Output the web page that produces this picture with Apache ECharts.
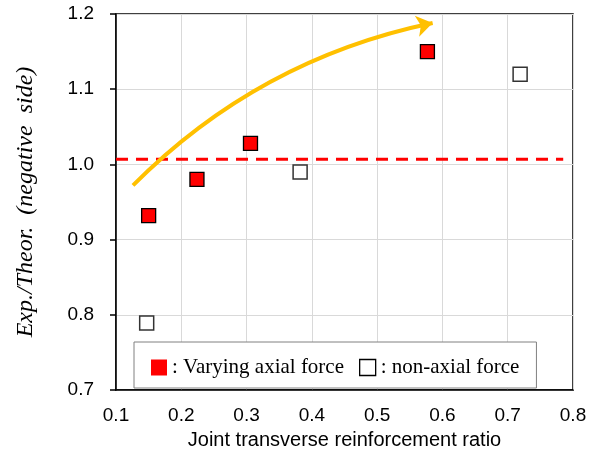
<!DOCTYPE html>
<html>
<head>
<meta charset="utf-8">
<script src="https://cdn.jsdelivr.net/npm/echarts@6/dist/echarts.min.js"></script>
<style>
  html, body { margin: 0; padding: 0; background: #fff; }
  #chart { width: 594px; height: 455px; }
</style>
</head>
<body>
<div id="chart"></div>
<script>
// 轴刻度
const xTicks = [0.1, 0.8, 0.1];   // min, max, interval
const yTicks = [0.7, 1.2, 0.1];

// 变轴力试件
const varyingX = [0.150, 0.224, 0.306, 0.577];
const varyingY = [0.932, 0.980, 1.028, 1.150];
// 无轴力试件
const nonAxialX = [0.147, 0.382, 0.719];
const nonAxialY = [0.789, 0.990, 1.120];

// 红色虚线 (平均值)
const meanLineX = [0.10, 0.785];
const meanLineY = [1.007, 1.007];

// 趋势箭头 起点 / 终点
const trendStart = [0.126, 0.972];
const trendEnd = [0.585, 1.188];

function zip(a, b) {
    return a.map(function (v, i) { return [v, b[i]]; });
}

let chart = echarts.init(document.getElementById('chart'));

let option = {
    animation: false,
    grid: {
        left: 116,
        right: 21,
        top: 14,
        bottom: 64,
        show: true,
        borderColor: '#000',
        borderWidth: 1.5
    },
    legend: {
        left: 134,
        top: 342,
        orient: 'horizontal',
        itemWidth: 16,
        itemHeight: 16,
        itemGap: 15,
        padding: [15, 17, 10, 17],
        backgroundColor: '#fff',
        borderColor: '#808080',
        borderWidth: 1,
        borderRadius: 0,
        icon: 'rect',
        formatter: function (name) {
            return ': ' + name;
        },
        textStyle: {
            fontFamily: 'Liberation Serif',
            fontSize: 21,
            color: '#000'
        },
        data: [
            { name: 'Varying axial force', itemStyle: { borderWidth: 0 } },
            { name: 'non-axial force', itemStyle: { color: '#fff', borderColor: '#000', borderWidth: 1.3 } }
        ]
    },
    xAxis: {
        type: 'value',
        min: xTicks[0],
        max: xTicks[1],
        interval: xTicks[2],
        name: 'Joint transverse reinforcement ratio',
        nameLocation: 'middle',
        nameGap: 40,
        nameTextStyle: {
            fontFamily: 'Liberation Sans',
            fontSize: 20,
            color: '#000'
        },
        axisLine: { lineStyle: { color: '#000', width: 1.5 } },
        axisTick: { show: false },
        axisLabel: {
            margin: 16,
            fontFamily: 'Liberation Sans',
            fontSize: 19,
            color: '#000',
            formatter: function (v) { return v.toFixed(1); }
        },
        splitLine: { lineStyle: { color: '#d9d9d9', width: 1 } }
    },
    yAxis: {
        type: 'value',
        min: yTicks[0],
        max: yTicks[1],
        interval: yTicks[2],
        name: 'Exp./Theor.  (negative  side)',
        nameLocation: 'middle',
        nameGap: 78,
        nameTextStyle: {
            fontFamily: 'Liberation Serif',
            fontStyle: 'italic',
            fontSize: 24,
            color: '#000'
        },
        axisLine: { show: true, lineStyle: { color: '#000', width: 1.5 } },
        axisTick: { show: true, inside: false, length: 6, lineStyle: { color: '#000', width: 1.5 } },
        axisLabel: {
            margin: 22,
            fontFamily: 'Liberation Sans',
            fontSize: 19,
            color: '#000',
            formatter: function (v) { return v.toFixed(1); }
        },
        splitLine: { lineStyle: { color: '#d9d9d9', width: 1 } }
    },
    series: [
        {
            name: 'mean',
            type: 'line',
            data: zip(meanLineX, meanLineY),
            symbol: 'none',
            lineStyle: { color: '#ff0000', width: 3, type: [12, 8] },
            silent: true,
            z: 2
        },
        {
            name: 'trend',
            type: 'lines',
            coordinateSystem: 'cartesian2d',
            data: [{ coords: [trendStart, trendEnd] }],
            symbol: ['none', 'arrow'],
            symbolSize: 16,
            lineStyle: { color: '#ffc000', width: 4, curveness: 0.15, opacity: 1 },
            silent: true,
            z: 3
        },
        {
            name: 'Varying axial force',
            type: 'scatter',
            data: zip(varyingX, varyingY),
            symbol: 'rect',
            symbolSize: 14,
            itemStyle: { color: '#ff0000', borderColor: '#000', borderWidth: 1.3, opacity: 1 },
            z: 4
        },
        {
            name: 'non-axial force',
            type: 'scatter',
            data: zip(nonAxialX, nonAxialY),
            symbol: 'rect',
            symbolSize: 14,
            itemStyle: { color: '#fff', borderColor: '#333', borderWidth: 1.5, opacity: 1 },
            z: 4
        }
    ]
};

chart.setOption(option);
</script>
</body>
</html>
